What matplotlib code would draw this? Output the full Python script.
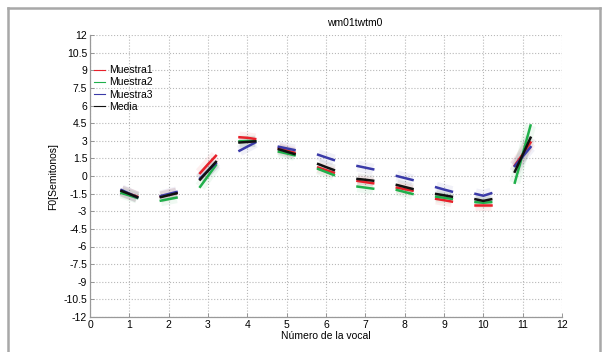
import numpy as np
import matplotlib.pyplot as plt
from matplotlib.lines import Line2D

plt.rcParams['font.family'] = ['Liberation Sans', 'DejaVu Sans']

# vowel index and F0 contour (start, middle, end) per vowel, in semitones
vocales = [1, 2, 3, 4, 5, 6, 7, 8, 9, 10, 11]

muestra1 = [(-1.30, -1.52, -1.75), (-1.75, -1.60, -1.45), (0.25, 1.00, 1.72),
            (3.30, 3.25, 3.15), (2.35, 2.17, 1.98), (0.72, 0.50, 0.28),
            (-0.42, -0.52, -0.62), (-0.99, -1.12, -1.25), (-1.95, -2.06, -2.18),
            (-2.45, -2.45, -2.45), (0.90, 1.85, 2.85)]
muestra2 = [(-1.45, -1.65, -1.87), (-2.10, -1.97, -1.84), (-0.92, 0.00, 0.92),
            (2.95, 2.98, 2.95), (2.07, 1.92, 1.76), (0.60, 0.34, 0.08),
            (-0.90, -0.99, -1.08), (-1.19, -1.36, -1.53), (-1.76, -1.85, -1.95),
            (-2.22, -2.28, -2.22), (-0.57, 1.85, 4.30)]
muestra3 = [(-1.19, -1.50, -1.81), (-1.70, -1.53, -1.36), (-0.20, 0.45, 1.08),
            (2.15, 2.50, 2.85), (2.49, 2.35, 2.21), (1.81, 1.58, 1.36),
            (0.85, 0.71, 0.57), (0.00, -0.17, -0.34), (-0.96, -1.15, -1.33),
            (-1.52, -1.68, -1.47), (0.85, 1.65, 2.46)]
media = [(-1.27, -1.53, -1.80), (-1.80, -1.63, -1.47), (-0.30, 0.45, 1.20),
         (2.85, 2.90, 2.95), (2.27, 2.07, 1.87), (1.02, 0.76, 0.51),
         (-0.25, -0.32, -0.40), (-0.76, -0.93, -1.10), (-1.53, -1.64, -1.76),
         (-1.98, -2.12, -1.98), (0.37, 1.80, 3.26)]

series = [("Muestra1", muestra1, "#e8202a"),
          ("Muestra2", muestra2, "#1fb04a"),
          ("Muestra3", muestra3, "#3a3aa8"),
          ("Media", media, "#111111")]

xticks = list(range(0, 13))
yticks = [12, 10.5, 9, 7.5, 6, 4.5, 3, 1.5, 0, -1.5, -3, -4.5, -6, -7.5, -9, -10.5, -12]
ytick_labels = ["12", "10.5", "9", "7.5", "6", "4.5", "3", "1.5", "0", "-1.5", "-3",
                "-4.5", "-6", "-7.5", "-9", "-10.5", "-12"]

fig = plt.figure(figsize=(6.07, 3.52), dpi=100)
ax = fig.add_axes([90 / 607, 1 - 317 / 352, 472 / 607, 282 / 352])

offs = np.array([-0.2, 0.0, 0.2])
for name, vals, color in series:
    for k, (v, contour) in enumerate(zip(vocales, vals)):
        xs = v + offs
        # soft halo behind each contour
        ax.plot(xs, contour, color=color, lw=8, alpha=0.07, solid_capstyle='butt', zorder=2)
        ax.plot(xs, contour, color=color, lw=1.8, zorder=3,
                label=name if k == 0 else None)

ax.set_xlim(0, 12)
ax.set_ylim(-12, 12)
ax.set_xticks(xticks)
ax.set_yticks(yticks)
ax.set_yticklabels(ytick_labels)
ax.tick_params(direction='in', length=3, width=0.6, color='#888888',
               labelsize=7.5, pad=2, top=False, right=False)
ax.grid(True, linestyle=':', color='#b8b8b8', linewidth=0.8)
ax.set_axisbelow(True)
for side in ['top', 'right']:
    ax.spines[side].set_visible(False)
for side in ['left', 'bottom']:
    ax.spines[side].set_color('#999999')
    ax.spines[side].set_linewidth(0.9)

ax.set_xlabel("Número de la vocal", fontsize=7.5, labelpad=1)
ax.set_ylabel("F0[Semitonos]", fontsize=7.5, labelpad=4)
fig.text(355 / 607, 1 - 23 / 352, "wm01twtm0", fontsize=7.5, ha='center', va='center')

handles = [Line2D([0], [0], color=c, lw=0.8) for _, _, c in series]
ax.legend(handles, [n for n, _, _ in series], loc='upper left',
          bbox_to_anchor=(0.0085, 0.893), frameon=False, fontsize=7.5,
          handlelength=1.1, handletextpad=0.35, labelspacing=0.22,
          borderaxespad=0, borderpad=0)

# outer frame
for xs, ys in [([8 / 607, 8 / 607], [0, 1 - 8 / 352]),
               ([8 / 607, 600 / 607], [1 - 8 / 352, 1 - 8 / 352]),
               ([600 / 607, 600 / 607], [1 - 8 / 352, 0])]:
    fig.add_artist(Line2D(xs, ys, color='#a8a8a8', lw=1.8, transform=fig.transFigure))

fig.savefig("out.png", dpi=100)
